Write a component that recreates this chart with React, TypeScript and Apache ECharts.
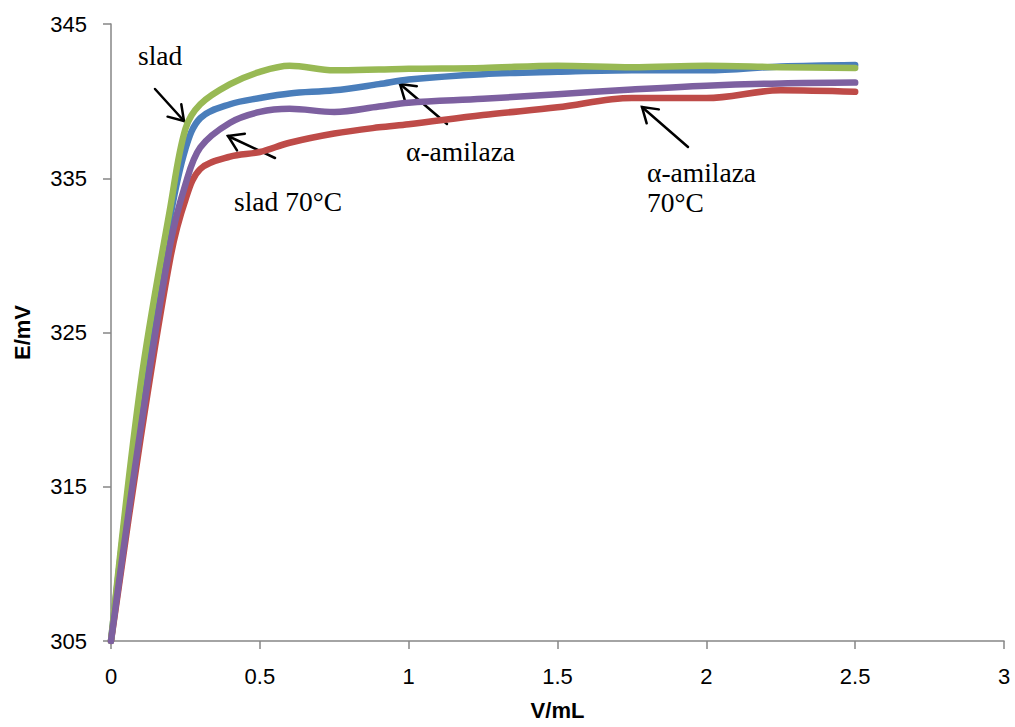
import React, { useEffect, useRef } from "react";
import * as echarts from "echarts";

const volume = [0, 0.1, 0.2, 0.25, 0.3, 0.4, 0.5, 0.6, 0.75, 0.9, 1.0, 1.25, 1.5, 1.75, 2.0, 2.25, 2.5];
const amilaza = [305, 321.0, 332.6, 336.9, 338.9, 339.8, 340.2, 340.5, 340.7, 341.1, 341.4, 341.75, 341.9, 342.0, 342.0, 342.25, 342.35];
const amilaza70 = [305, 318.2, 329.9, 333.6, 335.6, 336.4, 336.7, 337.3, 337.9, 338.3, 338.5, 339.1, 339.6, 340.2, 340.2, 340.7, 340.6];
const slad = [305, 321.7, 333.2, 338.2, 339.8, 341.1, 341.9, 342.3, 342.0, 342.05, 342.1, 342.15, 342.3, 342.2, 342.3, 342.2, 342.15];
const slad70 = [305, 318.8, 330.8, 334.6, 337.0, 338.6, 339.3, 339.5, 339.3, 339.65, 339.9, 340.15, 340.45, 340.75, 341.0, 341.15, 341.2];

const seriesNames = ["α-amilaza", "α-amilaza 70°C", "slad", "slad 70°C"];
const seriesValues = [amilaza, amilaza70, slad, slad70];
const seriesColors = ["#4A7EBB", "#BE4B48", "#98B954", "#7D60A0"];

function arrow(tail: number[], head: number[]) {
  const [x1, y1] = tail;
  const [x2, y2] = head;
  const ang = Math.atan2(y1 - y2, x1 - x2);
  const len = 17;
  const spread = (33 * Math.PI) / 180;
  const style = { stroke: "#000", lineWidth: 2.5, lineCap: "round" };
  return [
    { type: "line", shape: { x1, y1, x2, y2 }, style },
    {
      type: "polyline",
      shape: {
        points: [
          [x2 + len * Math.cos(ang + spread), y2 + len * Math.sin(ang + spread)],
          [x2, y2],
          [x2 + len * Math.cos(ang - spread), y2 + len * Math.sin(ang - spread)],
        ],
      },
      style: { ...style, fill: "none", lineJoin: "miter" },
    },
  ];
}

export default function App() {
  const ref = useRef<HTMLDivElement>(null);
  useEffect(() => {
    if (!ref.current) return;
    const chart = echarts.init(ref.current, undefined, { renderer: "svg" });
    const serifFont = "'Liberation Serif', 'Times New Roman', serif";
    const annText = (text: string, x: number, y: number) => ({
      type: "text",
      x,
      y,
      style: { text, fontFamily: serifFont, fontSize: 27.5, fill: "#000", lineHeight: 30, textVerticalAlign: "middle" },
    });
    chart.setOption({
      animation: false,
      backgroundColor: "#fff",
      grid: { left: 111, right: 11, top: 24, bottom: 86 },
      xAxis: {
        type: "value",
        min: 0,
        max: 3,
        interval: 0.5,
        name: "V/mL",
        nameLocation: "middle",
        nameGap: 58,
        nameTextStyle: { fontFamily: "Liberation Sans", fontWeight: "bold", fontSize: 22, color: "#000" },
        axisLine: { show: true, lineStyle: { color: "#868686", width: 1.5 } },
        axisTick: { show: true, length: 8, lineStyle: { color: "#868686", width: 1.5 } },
        axisLabel: { margin: 24, fontFamily: "Liberation Sans", fontSize: 22, color: "#000" },
        splitLine: { show: false },
      },
      yAxis: {
        type: "value",
        min: 305,
        max: 345,
        interval: 10,
        name: "E/mV",
        nameLocation: "middle",
        nameRotate: 90,
        nameGap: 78,
        nameTextStyle: { fontFamily: "Liberation Sans", fontWeight: "bold", fontSize: 22, color: "#000" },
        axisLine: { show: true, lineStyle: { color: "#868686", width: 1.5 } },
        axisTick: { show: true, length: 8, lineStyle: { color: "#868686", width: 1.5 } },
        axisLabel: { margin: 24, fontFamily: "Liberation Sans", fontSize: 22, color: "#000" },
        splitLine: { show: false },
      },
      series: seriesNames.map((name, i) => ({
        name,
        type: "line",
        data: volume.map((v, j) => [v, seriesValues[i][j]]),
        smooth: 0.35,
        showSymbol: false,
        symbol: "none",
        lineStyle: { color: seriesColors[i], width: 6.5, cap: "round", join: "round" },
        itemStyle: { color: seriesColors[i] },
        z: 2 + i,
      })),
      graphic: [
        annText("slad", 138, 55),
        annText("slad 70°C", 234, 201),
        annText("α-amilaza", 406, 151),
        annText("α-amilaza\n70°C", 647, 187),
        ...arrow([155, 89], [184, 121]),
        ...arrow([275, 158], [228, 136]),
        ...arrow([447, 124], [400, 84]),
        ...arrow([688, 147], [642, 107]),
      ],
    });
    return () => chart.dispose();
  }, []);
  return <div ref={ref} style={{ position: "fixed", left: 0, top: 0, width: 1015, height: 727 }} />;
}
